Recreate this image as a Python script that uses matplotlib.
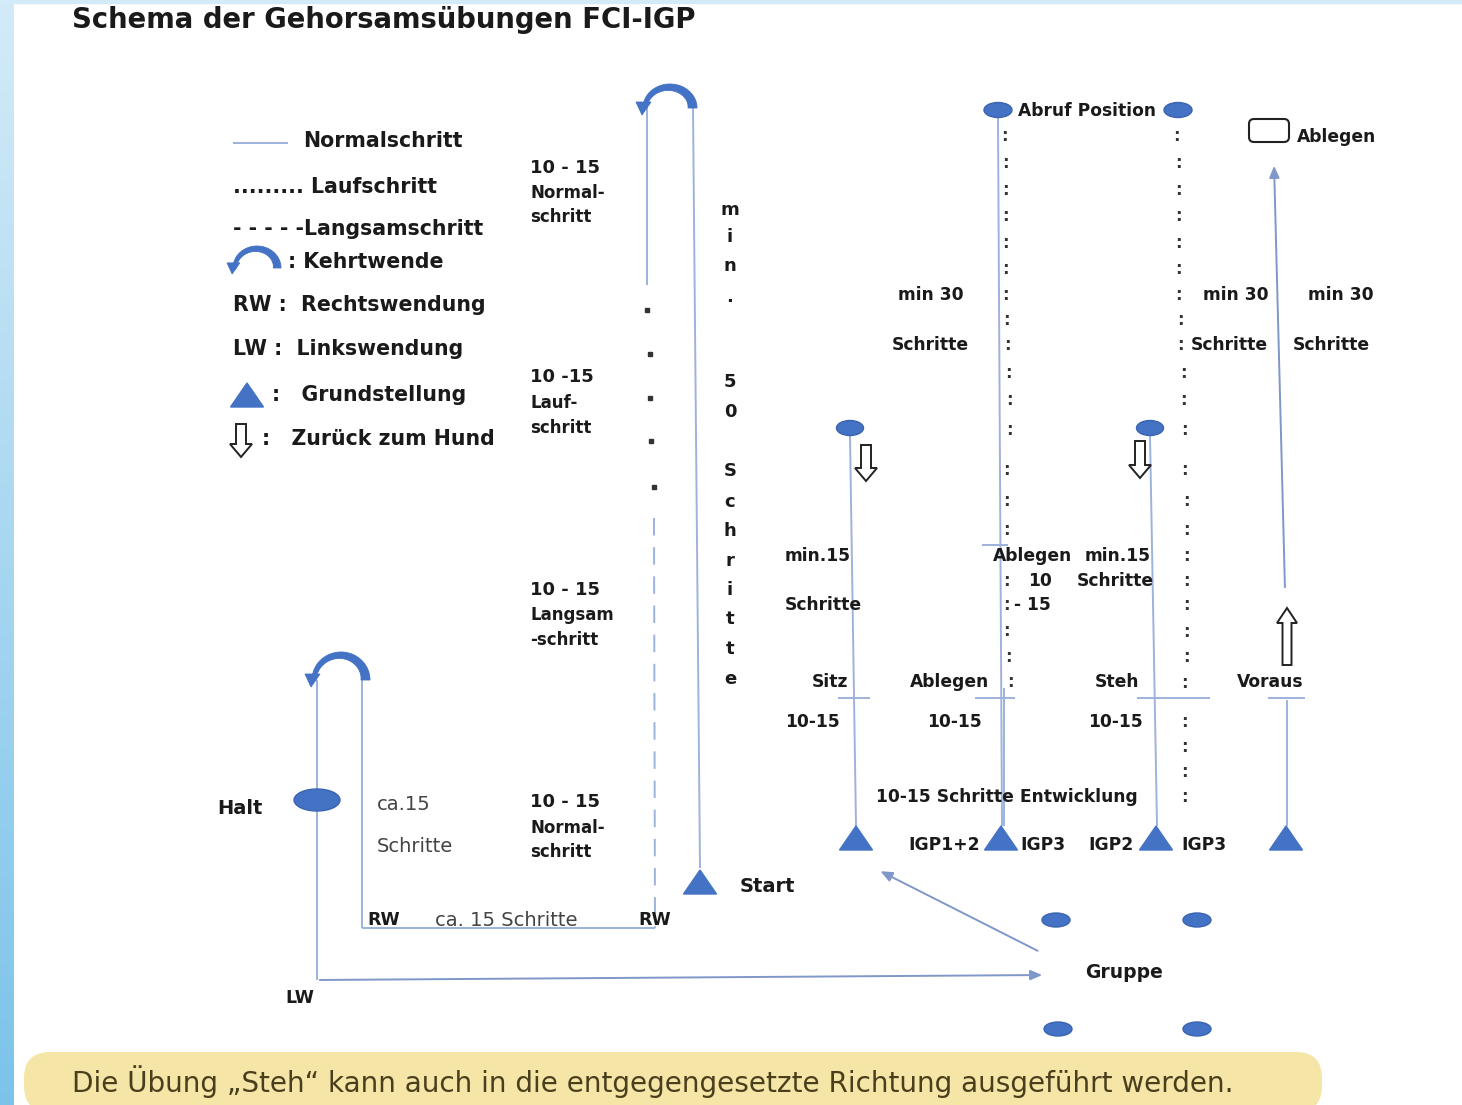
"""Schema der Gehorsamsuebungen FCI-IGP - nachgezeichnetes Ablaufschema."""

import matplotlib
matplotlib.use("Agg")
import matplotlib.pyplot as plt
import numpy as np
from matplotlib.colors import LinearSegmentedColormap
from matplotlib.patches import Ellipse, FancyBboxPatch, Polygon, Rectangle

W, H = 1462, 1105
BLUE = "#4472c4"
LINE = "#9db2dc"
INK = "#1a1a1a"
FONT = "DejaVu Sans"

# ---- Daten: Texte, Strecken, Markierungen --------------------------------------
TITLE = "Schema der Gehorsamsübungen FCI-IGP"
NOTE = "Die Übung „Steh“ kann auch in die entgegengesetzte Richtung ausgeführt werden."

LEGEND_TEXT = ["Normalschritt", "......... Laufschritt", "- - - - -Langsamschritt", ": Kehrtwende",
               "RW :  Rechtswendung", "LW :  Linkswendung", ":   Grundstellung", ":   Zurück zum Hund"]
LEGEND_X = [303, 233, 233, 288, 233, 233, 272, 262]
LEGEND_Y = [141, 187, 229, 262, 305, 349, 395, 439]

STEP_TEXT = ["10 - 15", "Normal-", "schritt", "10 -15", "Lauf-", "schritt",
             "10 - 15", "Langsam", "-schritt", "10 - 15", "Normal-", "schritt"]
STEP_Y = [168, 193, 217, 377, 403, 428, 590, 615, 640, 802, 828, 852]

VERT_CHARS = list("min.50Schritte")
VERT_Y = [210, 237, 266, 297, 382, 412, 471, 502, 531, 561, 590, 619, 649, 679]

RIGHT_TEXT = ["Abruf Position", "Ablegen", "min 30", "Schritte", "min 30", "Schritte", "min 30", "Schritte",
              "min.15", "Schritte", "Ablegen", "min.15", "10", "Schritte", "- 15",
              "Sitz", "Ablegen", "Steh", "Voraus", "10-15", "10-15", "10-15",
              "10-15 Schritte Entwicklung", "IGP1+2", "IGP3", "IGP2", "IGP3"]
RIGHT_X = [1018, 1297, 898, 892, 1203, 1191, 1308, 1293,
           785, 785, 993, 1085, 1028, 1077, 1014,
           812, 910, 1095, 1237, 785, 927, 1088,
           876, 908, 1020, 1088, 1181]
RIGHT_Y = [111, 137, 295, 345, 295, 345, 295, 345,
           556, 605, 556, 556, 581, 581, 605,
           682, 682, 682, 682, 722, 722, 722,
           797, 845, 845, 845, 845]

# Doppelpunkt-Spuren (Laufschritt) links / rechts
COLON_L_Y = [136, 163, 190, 216, 243, 269, 295, 320, 345, 373, 400, 430, 470, 501, 530,
             581, 605, 631, 657, 682]
COLON_L_X = [1004, 1005, 1005, 1005, 1005, 1005, 1005, 1006, 1007, 1008, 1009, 1009, 1006, 1006, 1006,
             1006, 1006, 1006, 1008, 1010]
COLON_R_Y = [136, 163, 190, 216, 243, 269, 295, 320, 345, 373, 400, 430, 470, 501, 530, 556,
             581, 605, 632, 657, 683, 722, 747, 772, 797]
COLON_R_X = [1176, 1178, 1178, 1178, 1178, 1178, 1178, 1180, 1180, 1183, 1183, 1184, 1184, 1186, 1186, 1186,
             1186, 1186, 1186, 1186, 1184, 1184, 1184, 1184, 1184]

# Normalschritt-Strecken (x0, y0, x1, y1)
NORMAL_SEGMENTS = [
    (647, 108, 647, 285), (693, 108, 700, 868),
    (317, 680, 317, 980), (362, 680, 362, 928), (362, 928, 655, 928),
    (850, 435, 856, 826), (998, 117, 1002, 826), (1004, 688, 1004, 826),
    (1150, 435, 1157, 826), (1287, 700, 1287, 826),
    (982, 545, 1008, 545), (838, 698, 870, 698), (975, 698, 1015, 698),
    (1137, 698, 1210, 698), (1268, 698, 1305, 698), (233, 143, 288, 143),
]
ARROW_SEGMENTS = [(317, 980, 1045, 975), (1040, 952, 878, 870), (1285, 590, 1274, 163)]

RUN_DOTS_X = [647, 650, 650, 651, 654]
RUN_DOTS_Y = [310, 354, 398, 441, 487]
SLOW_SEGMENT = (654, 518, 655, 928)

TRIANGLE_X = [247, 700, 856, 1001, 1156, 1286]
TRIANGLE_Y = [395, 882, 838, 838, 838, 838]
OVAL_X = [317, 998, 1178, 850, 1150, 1056, 1197, 1058, 1197]
OVAL_Y = [800, 110, 110, 428, 428, 920, 920, 1029, 1029]
OVAL_W = [46, 28, 28, 27, 27, 28, 28, 28, 28]
OVAL_H = [22, 15, 15, 15, 15, 14, 14, 14, 14]

DOWN_ARROWS = [(241, 424, 457), (866, 445, 481), (1140, 441, 478)]
UP_ARROWS = [(1287, 665, 608)]
TURNS = [(670, 108, 27, 24, 1.0), (341, 680, 29, 28, 1.0), (257, 268, 24, 22, 0.85)]


fig = plt.figure(figsize=(W / 100, H / 100), dpi=100)
ax = fig.add_axes([0, 0, 1, 1])

# linker Farbstreifen + oberer Rand
strip = LinearSegmentedColormap.from_list("strip", ["#d3ebf8", "#7cc3ea"])
ax.imshow(np.linspace(0, 1, 256).reshape(-1, 1), extent=(0, 14, H, 0), cmap=strip,
          aspect="auto", zorder=0)
ax.add_patch(Rectangle((0, 0), W, 3, color="#d3ebf8", zorder=0))
ax.set_xlim(0, W)
ax.set_ylim(H, 0)
ax.axis("off")


def kehrtwende(cx, foot, rx, ry, s):
    th = np.linspace(0, np.pi, 80)
    t = np.linspace(9, 4, 80) * s
    xo, yo = cx + rx * np.cos(th), foot - ry * np.sin(th)
    xi, yi = cx + (rx - t) * np.cos(th), foot - (ry - t) * np.sin(th)
    ax.add_patch(Polygon(np.column_stack([np.r_[xo, xi[::-1]], np.r_[yo, yi[::-1]]]),
                         fc=BLUE, ec=BLUE, lw=0.6, zorder=4))
    lx = cx - rx + t[-1] / 2
    ax.add_patch(Polygon([(lx - 9 * s, foot - 6 * s), (lx + 6 * s, foot - 6 * s), (lx - 3 * s, foot + 7 * s)],
                         fc=BLUE, ec=BLUE, lw=0.6, zorder=4))


def hollow_arrow(cx, y_tail, y_tip, shaft=10, head=22, head_len=13):
    d = np.sign(y_tip - y_tail)
    yb = y_tip - d * head_len
    pts = [(cx - shaft / 2, y_tail), (cx + shaft / 2, y_tail), (cx + shaft / 2, yb), (cx + head / 2, yb),
           (cx, y_tip), (cx - head / 2, yb), (cx - shaft / 2, yb)]
    ax.add_patch(Polygon(pts, fc="white", ec="#222222", lw=1.4, zorder=5))


# Wege
for x0, y0, x1, y1 in NORMAL_SEGMENTS:
    ax.plot([x0, x1], [y0, y1], color=LINE, lw=1.4, solid_capstyle="butt", zorder=2)
for x0, y0, x1, y1 in ARROW_SEGMENTS:
    ax.annotate("", xy=(x1, y1), xytext=(x0, y0),
                arrowprops=dict(arrowstyle="-|>,head_length=0.7,head_width=0.3", color="#7f97c9", lw=1.4),
                zorder=2)
ax.plot(RUN_DOTS_X, RUN_DOTS_Y, ls="none", marker="s", ms=2.2, color="#333333", zorder=3)
ax.plot(SLOW_SEGMENT[::2], SLOW_SEGMENT[1::2], color=LINE, lw=1.4, ls=(0, (9, 6)), zorder=2)

# Markierungen
for x, y in zip(TRIANGLE_X, TRIANGLE_Y):
    ax.add_patch(Polygon([(x - 16.5, y + 12), (x + 16.5, y + 12), (x, y - 12)], fc=BLUE, ec=BLUE, zorder=5))
for x, y, w, h in zip(OVAL_X, OVAL_Y, OVAL_W, OVAL_H):
    ax.add_patch(Ellipse((x, y), w, h, fc=BLUE, ec="#3a64b0", lw=1, zorder=5))
for cx, yt, yp in DOWN_ARROWS:
    hollow_arrow(cx, yt, yp)
for cx, yt, yp in UP_ARROWS:
    hollow_arrow(cx, yt, yp, shaft=9, head=20, head_len=15)
for cx, foot, rx, ry, s in TURNS:
    kehrtwende(cx, foot, rx, ry, s)
ax.add_patch(FancyBboxPatch((1249, 119), 40, 23, boxstyle="round,pad=0,rounding_size=5",
                            fc="white", ec="#222222", lw=1.5, zorder=5))

# Texte
ax.text(72, 20, TITLE, fontsize=19.8, fontweight="bold", family=FONT, color=INK, va="center")
for s, x, y in zip(LEGEND_TEXT, LEGEND_X, LEGEND_Y):
    ax.text(x, y, s, fontsize=14.8, fontweight="bold", family=FONT, color=INK, va="center")
for s, y in zip(STEP_TEXT, STEP_Y):
    big = s[0].isdigit()
    ax.text(530, y, s, fontsize=13 if big else 12, fontweight="bold", family=FONT, color=INK, va="center")
for c, y in zip(VERT_CHARS, VERT_Y):
    ax.text(730, y, c, fontsize=13, fontweight="bold", family=FONT, color=INK, va="center", ha="center")
for s, x, y in zip(RIGHT_TEXT, RIGHT_X, RIGHT_Y):
    ax.text(x, y, s, fontsize=12.3, fontweight="bold", family=FONT, color=INK, va="center", zorder=6)
for x, y in zip(COLON_L_X, COLON_L_Y):
    ax.text(x, y, ":", fontsize=12, fontweight="bold", family=FONT, color="#333333", va="center", ha="center")
for x, y in zip(COLON_R_X, COLON_R_Y):
    ax.text(x, y, ":", fontsize=12, fontweight="bold", family=FONT, color="#333333", va="center", ha="center")

ax.text(217, 808, "Halt", fontsize=14, fontweight="bold", family=FONT, color=INK, va="center")
ax.text(740, 887, "Start", fontsize=14, fontweight="bold", family=FONT, color=INK, va="center")
ax.text(1085, 973, "Gruppe", fontsize=13.5, fontweight="bold", family=FONT, color=INK, va="center")
ax.text(285, 998, "LW", fontsize=12.5, fontweight="bold", family=FONT, color=INK, va="center")
ax.text(367, 920, "RW", fontsize=12.5, fontweight="bold", family=FONT, color=INK, va="center")
ax.text(638, 920, "RW", fontsize=12.5, fontweight="bold", family=FONT, color=INK, va="center")
ax.text(435, 920, "ca. 15 Schritte", fontsize=14, family=FONT, color="#444444", va="center")
ax.text(377, 805, "ca.15", fontsize=14, family=FONT, color="#444444", va="center")
ax.text(377, 847, "Schritte", fontsize=14, family=FONT, color="#444444", va="center")

# Hinweisband unten
ax.add_patch(FancyBboxPatch((24, 1052), 1298, 60, boxstyle="round,pad=0,rounding_size=26",
                            fc="#f5e5a6", ec="none", zorder=1))
ax.text(72, 1082, NOTE, fontsize=20.1, family=FONT, color="#4a3f1c", va="center", zorder=6)

fig.savefig("out.png", dpi=100)
